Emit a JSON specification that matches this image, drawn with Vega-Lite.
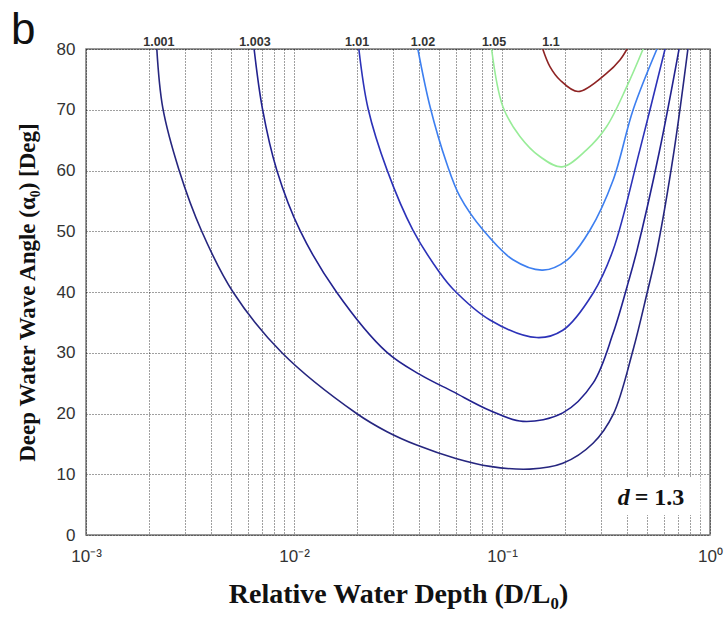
{
  "$schema": "https://vega.github.io/schema/vega-lite/v6.json",
  "width": 624,
  "height": 486,
  "autosize": {"type": "none"},
  "padding": {"left": 86, "top": 49, "right": 17, "bottom": 82},
  "background": "white",
  "title": {"text": "b", "anchor": "start", "frame": "group", "fontSize": 44, "font": "Liberation Sans", "fontWeight": "normal", "color": "#111", "dx": -75, "offset": -17},
  "config": {"view": {"stroke": "#777", "strokeWidth": 1.5}},
  "datasets": {
    "curves": [
      {"d": "1.001", "x": 0.00219, "y": 80},
      {"d": "1.001", "x": 0.00234, "y": 70.3},
      {"d": "1.001", "x": 0.0028, "y": 60.1},
      {"d": "1.001", "x": 0.0036, "y": 50},
      {"d": "1.001", "x": 0.00509, "y": 40},
      {"d": "1.001", "x": 0.00875, "y": 30},
      {"d": "1.001", "x": 0.02, "y": 20},
      {"d": "1.001", "x": 0.028, "y": 17.0},
      {"d": "1.001", "x": 0.0389, "y": 14.8},
      {"d": "1.001", "x": 0.06, "y": 12.6},
      {"d": "1.001", "x": 0.0875, "y": 11.3},
      {"d": "1.001", "x": 0.136, "y": 10.85},
      {"d": "1.001", "x": 0.196, "y": 11.8},
      {"d": "1.001", "x": 0.274, "y": 15.1},
      {"d": "1.001", "x": 0.342, "y": 19.8},
      {"d": "1.001", "x": 0.427, "y": 30.5},
      {"d": "1.001", "x": 0.498, "y": 39.8},
      {"d": "1.001", "x": 0.556, "y": 46.9},
      {"d": "1.001", "x": 0.67, "y": 63},
      {"d": "1.001", "x": 0.783, "y": 80},
      {"d": "1.003", "x": 0.00643, "y": 80},
      {"d": "1.003", "x": 0.00705, "y": 70.2},
      {"d": "1.003", "x": 0.00826, "y": 60.1},
      {"d": "1.003", "x": 0.0107, "y": 50.1},
      {"d": "1.003", "x": 0.016, "y": 40},
      {"d": "1.003", "x": 0.0279, "y": 30.1},
      {"d": "1.003", "x": 0.0404, "y": 26.4},
      {"d": "1.003", "x": 0.0581, "y": 23.6},
      {"d": "1.003", "x": 0.0875, "y": 20.5},
      {"d": "1.003", "x": 0.126, "y": 18.7},
      {"d": "1.003", "x": 0.196, "y": 20.1},
      {"d": "1.003", "x": 0.274, "y": 25},
      {"d": "1.003", "x": 0.342, "y": 33.2},
      {"d": "1.003", "x": 0.404, "y": 41.5},
      {"d": "1.003", "x": 0.446, "y": 46.9},
      {"d": "1.003", "x": 0.57, "y": 63},
      {"d": "1.003", "x": 0.71, "y": 80},
      {"d": "1.01", "x": 0.0205, "y": 80},
      {"d": "1.01", "x": 0.0227, "y": 70.2},
      {"d": "1.01", "x": 0.028, "y": 60.1},
      {"d": "1.01", "x": 0.0373, "y": 50.2},
      {"d": "1.01", "x": 0.0504, "y": 43.1},
      {"d": "1.01", "x": 0.0581, "y": 40.5},
      {"d": "1.01", "x": 0.0875, "y": 35.4},
      {"d": "1.01", "x": 0.147, "y": 32.5},
      {"d": "1.01", "x": 0.196, "y": 33.7},
      {"d": "1.01", "x": 0.274, "y": 39.8},
      {"d": "1.01", "x": 0.342, "y": 46.9},
      {"d": "1.01", "x": 0.46, "y": 63.4},
      {"d": "1.01", "x": 0.608, "y": 80},
      {"d": "1.02", "x": 0.0394, "y": 80},
      {"d": "1.02", "x": 0.0451, "y": 70.5},
      {"d": "1.02", "x": 0.0542, "y": 61.2},
      {"d": "1.02", "x": 0.0628, "y": 55.7},
      {"d": "1.02", "x": 0.0811, "y": 50.2},
      {"d": "1.02", "x": 0.113, "y": 45.3},
      {"d": "1.02", "x": 0.157, "y": 43.6},
      {"d": "1.02", "x": 0.206, "y": 45.3},
      {"d": "1.02", "x": 0.265, "y": 50.2},
      {"d": "1.02", "x": 0.342, "y": 58.4},
      {"d": "1.02", "x": 0.427, "y": 70},
      {"d": "1.02", "x": 0.556, "y": 80},
      {"d": "1.05", "x": 0.0891, "y": 80},
      {"d": "1.05", "x": 0.101, "y": 70.5},
      {"d": "1.05", "x": 0.122, "y": 65.6},
      {"d": "1.05", "x": 0.152, "y": 62.3},
      {"d": "1.05", "x": 0.194, "y": 60.6},
      {"d": "1.05", "x": 0.255, "y": 63.4},
      {"d": "1.05", "x": 0.318, "y": 67.2},
      {"d": "1.05", "x": 0.398, "y": 73.8},
      {"d": "1.05", "x": 0.477, "y": 80},
      {"d": "1.1", "x": 0.157, "y": 80},
      {"d": "1.1", "x": 0.17, "y": 77.1},
      {"d": "1.1", "x": 0.19, "y": 74.9},
      {"d": "1.1", "x": 0.232, "y": 73},
      {"d": "1.1", "x": 0.318, "y": 76},
      {"d": "1.1", "x": 0.369, "y": 78.2},
      {"d": "1.1", "x": 0.399, "y": 80}
    ],
    "labels": [
      {"label": "1.001", "x": 0.00224, "y": 80},
      {"label": "1.003", "x": 0.00649, "y": 80},
      {"label": "1.01", "x": 0.0201, "y": 80},
      {"label": "1.02", "x": 0.0417, "y": 80},
      {"label": "1.05", "x": 0.0916, "y": 80},
      {"label": "1.1", "x": 0.172, "y": 80}
    ],
    "note": [
      {"x": 0.42, "y": 6.1, "x0": 0.34, "x1": 0.9, "y0": 3.3, "y1": 9.4}
    ]
  },
  "encoding": {
    "x": {
      "field": "x", "type": "quantitative",
      "scale": {"type": "log", "domain": [0.001, 1], "nice": false},
      "axis": {
        "values": [0.001, 0.002, 0.003, 0.004, 0.005, 0.006, 0.007, 0.008, 0.009, 0.01, 0.02, 0.03, 0.04, 0.05, 0.06, 0.07, 0.08, 0.09, 0.1, 0.2, 0.3, 0.4, 0.5, 0.6, 0.7, 0.8, 0.9, 1],
        "labelExpr": "datum.value == 0.001 ? '10⁻³' : datum.value == 0.01 ? '10⁻²' : datum.value == 0.1 ? '10⁻¹' : datum.value == 1 ? '10⁰' : ''",
        "grid": true, "gridColor": "#000", "gridDash": [1, 2], "gridOpacity": 0.75, "gridWidth": 1,
        "ticks": false, "tickSize": 0, "domain": false,
        "labelFont": "Liberation Sans", "labelFontSize": 17, "labelColor": "#333", "labelPadding": 13,
        "labelOverlap": false, "labelFlush": false, "labelBound": false,
        "title": "Relative Water Depth (D/L₀)", "titleFont": "Liberation Serif", "titleFontSize": 28,
        "titleFontWeight": "bold", "titleColor": "#111", "titlePadding": 16
      }
    },
    "y": {
      "field": "y", "type": "quantitative",
      "scale": {"domain": [0, 80], "nice": false},
      "axis": {
        "values": [0, 10, 20, 30, 40, 50, 60, 70, 80],
        "grid": true, "gridColor": "#000", "gridDash": [1, 2], "gridOpacity": 0.75, "gridWidth": 1,
        "ticks": false, "tickSize": 0, "domain": false,
        "labelFont": "Liberation Sans", "labelFontSize": 17, "labelColor": "#333", "labelPadding": 11,
        "title": "Deep Water Wave Angle (α₀) [Deg]", "titleFont": "Liberation Serif", "titleFontSize": 23,
        "titleFontWeight": "bold", "titleColor": "#111", "titlePadding": 17
      }
    }
  },
  "layer": [
    {
      "data": {"name": "note"},
      "mark": {"type": "rect", "color": "white"},
      "encoding": {
        "x": {"field": "x0", "type": "quantitative"},
        "x2": {"field": "x1"},
        "y": {"field": "y0", "type": "quantitative"},
        "y2": {"field": "y1"}
      }
    },
    {
      "data": {"name": "curves"},
      "mark": {"type": "line", "interpolate": "catmull-rom", "strokeWidth": 1.6, "clip": true},
      "encoding": {
        "color": {"field": "d", "type": "nominal", "legend": null,
          "scale": {"domain": ["1.001", "1.003", "1.01", "1.02", "1.05", "1.1"],
                    "range": ["#26267f", "#22228f", "#2c32b8", "#3d7ff0", "#98ec98", "#8e2323"]}},
        "order": {"field": "x", "type": "quantitative"}
      }
    },
    {
      "data": {"name": "labels"},
      "mark": {"type": "text", "font": "Liberation Sans", "fontWeight": "bold", "fontSize": 12.5, "color": "#333", "baseline": "alphabetic", "dy": -3},
      "encoding": {"text": {"field": "label", "type": "nominal"}}
    },
    {
      "data": {"name": "note"},
      "mark": {"type": "text", "font": "Liberation Serif", "fontWeight": "bold", "fontStyle": "italic", "fontSize": 24, "color": "#111", "align": "right", "baseline": "middle", "dx": -2},
      "encoding": {"text": {"value": "d"}}
    },
    {
      "data": {"name": "note"},
      "mark": {"type": "text", "font": "Liberation Serif", "fontWeight": "bold", "fontSize": 24, "color": "#111", "align": "left", "baseline": "middle", "dx": 3},
      "encoding": {"text": {"value": "= 1.3"}}
    }
  ]
}
